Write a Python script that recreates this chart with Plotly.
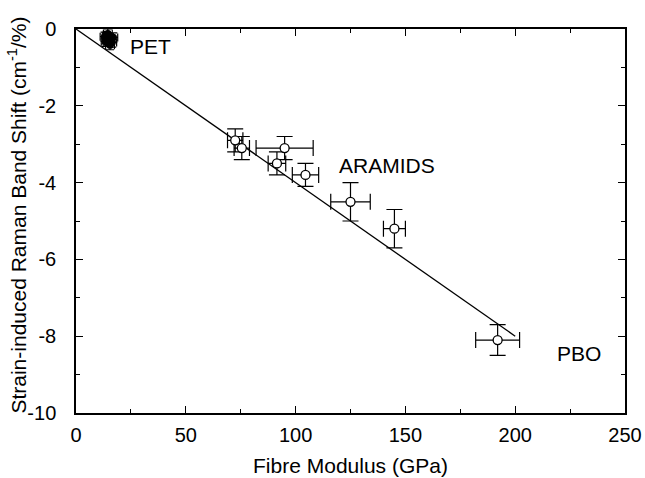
import plotly.graph_objects as go

# Aramid fibres: modulus (GPa), Raman band shift (cm-1/%) and their error bars
aramid_modulus = [72.5, 75.5, 95, 91.5, 104.5, 125, 145]
aramid_shift = [-2.9, -3.1, -3.1, -3.5, -3.8, -4.5, -5.2]
aramid_mod_err = [3.5, 3.5, 13, 4, 6, 9, 5]
aramid_shift_err = [0.3, 0.3, 0.3, 0.3, 0.3, 0.5, 0.5]

# PBO fibre
pbo_modulus = [192]
pbo_shift = [-8.1]
pbo_mod_err = [10]
pbo_shift_err = [0.4]

# PET fibres
pet_modulus = [13, 14, 15, 16.5, 14.5, 15.5, 13.5, 17, 15, 14]
pet_shift = [-0.2, -0.3, -0.25, -0.35, -0.12, -0.42, -0.33, -0.22, -0.3, -0.18]
pet_mod_err = [2, 2, 2, 2, 2, 2, 2, 2, 2, 2]
pet_shift_err = [0.12, 0.12, 0.12, 0.12, 0.12, 0.12, 0.12, 0.12, 0.12, 0.12]

# Straight-line relationship through the origin
fit_modulus = [0, 200]
fit_shift = [0, -8]

# Axis ticks
x_ticks = [0, 50, 100, 150, 200, 250]
y_ticks = [0, -2, -4, -6, -8, -10]
y_tick_text = ["0", "-2", "-4", "-6", "-8", "-10"]

FONT = "Liberation Sans, Arial, Helvetica, sans-serif"
INK = "black"

fig = go.Figure()

fig.add_trace(go.Scatter(
    x=fit_modulus, y=fit_shift, mode="lines",
    line=dict(color=INK, width=1.3), hoverinfo="skip",
))


def add_points(xs, ys, ex, ey, size, fill, cap):
    fig.add_trace(go.Scatter(
        x=xs, y=ys, mode="markers",
        marker=dict(symbol="circle", size=size, color=fill,
                    line=dict(color=INK, width=1.3)),
        error_x=dict(type="data", array=ex, color=INK, thickness=1.2, width=cap),
        error_y=dict(type="data", array=ey, color=INK, thickness=1.2, width=cap),
    ))


add_points(pet_modulus, pet_shift, pet_mod_err, pet_shift_err, 6, INK, 4)
add_points(aramid_modulus, aramid_shift, aramid_mod_err, aramid_shift_err, 9, "white", 8)
add_points(pbo_modulus, pbo_shift, pbo_mod_err, pbo_shift_err, 9, "white", 8)

# Fibre family labels
labels = [("PET", 23.5, -0.45), ("ARAMIDS", 118.9, -3.56), ("PBO", 218, -8.46)]
for text, lx, ly in labels:
    fig.add_annotation(x=lx, y=ly, text=text, showarrow=False,
                       xanchor="left", yanchor="middle",
                       font=dict(family=FONT, size=21, color=INK))

# Vertical axis title, drawn as rotated text beside the tick labels
fig.add_annotation(
    text="Strain-induced Raman Band Shift (cm<sup>-1</sup>/%)",
    xref="paper", yref="paper", x=-0.108, y=0.516,
    xanchor="center", yanchor="middle", textangle=-90, showarrow=False,
    font=dict(family=FONT, size=21, color=INK),
)

axis_common = dict(
    showgrid=False, zeroline=False, showline=True, linecolor=INK, linewidth=1.5,
    mirror="ticks", ticks="inside", ticklen=7, tickwidth=1.3, tickcolor=INK,
    tickfont=dict(family=FONT, size=20, color=INK), automargin=False,
)

fig.update_xaxes(
    range=[0, 250], tickvals=x_ticks, ticklabelstandoff=3,
    minor=dict(dtick=25, ticks="inside", ticklen=4, tickwidth=1.3, tickcolor=INK),
    title=dict(text="Fibre Modulus (GPa)", font=dict(family=FONT, size=21, color=INK),
               standoff=14),
    **axis_common,
)
fig.update_yaxes(
    range=[-10, 0], tickvals=y_ticks, ticktext=y_tick_text, ticklabelstandoff=14,
    minor=dict(dtick=1, ticks="inside", ticklen=4, tickwidth=1.3, tickcolor=INK),
    **axis_common,
)

fig.update_layout(
    width=645, height=478,
    margin=dict(l=75.5, r=19.5, t=29.3, b=64.7),
    paper_bgcolor="white", plot_bgcolor="white",
    showlegend=False,
)

fig.write_html("out.html")
